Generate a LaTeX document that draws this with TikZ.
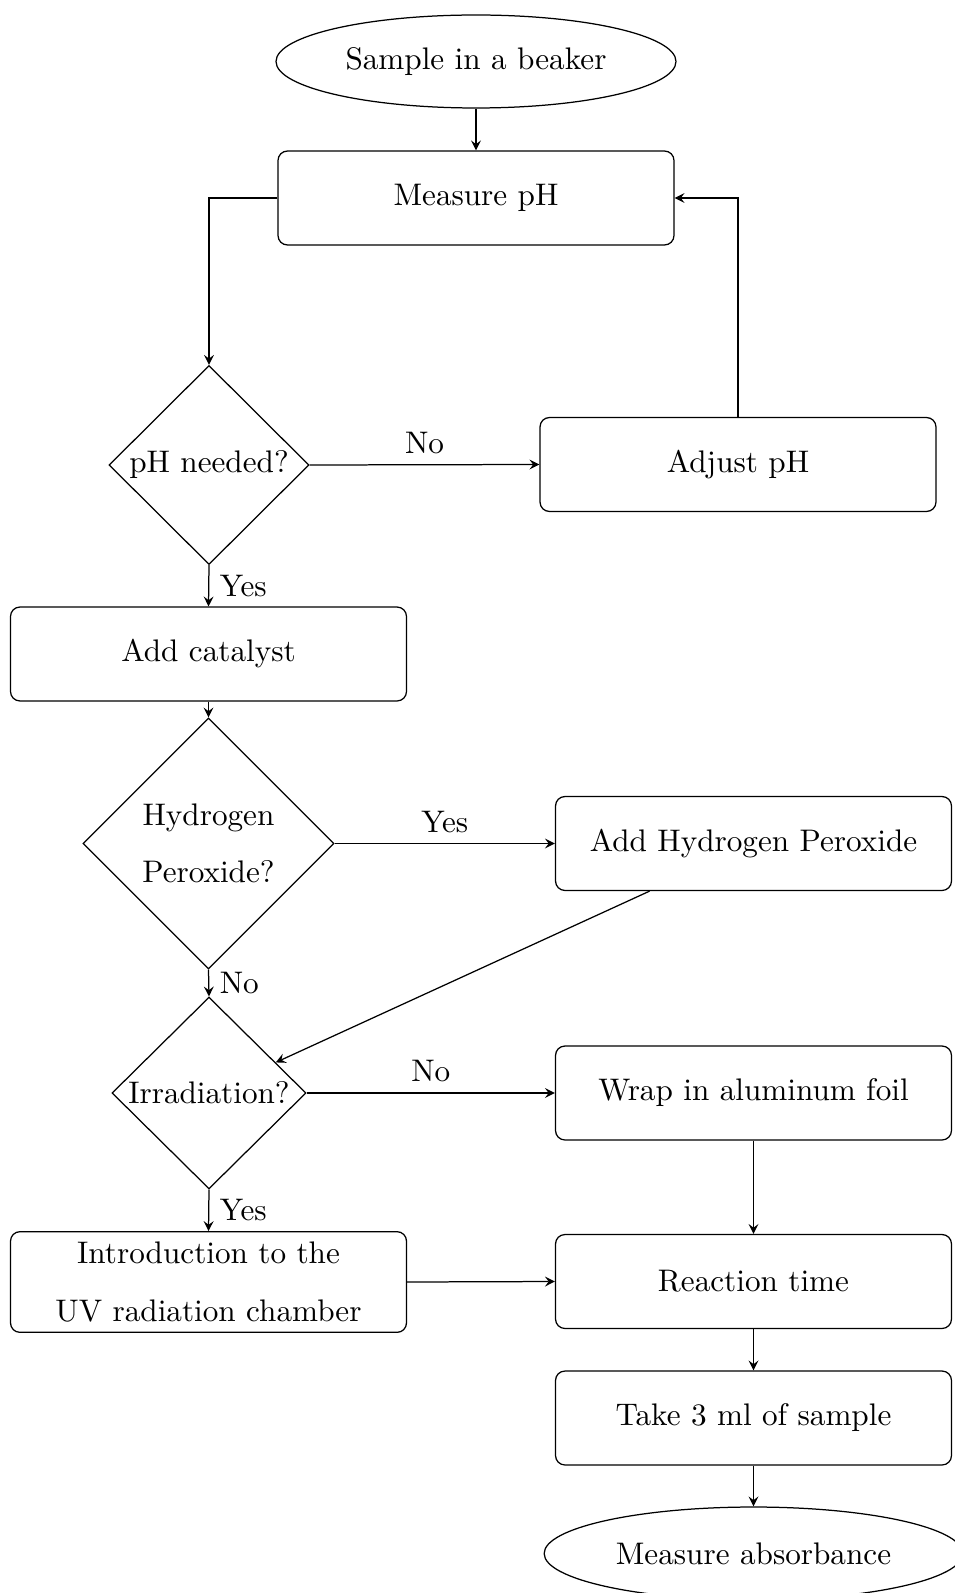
\documentclass[tikz,border=0pt]{standalone}
\usetikzlibrary{shapes.geometric,arrows}
\begin{document}
\begin{tikzpicture}[x=0.3205pt,y=-0.3205pt,
  every node/.style={font=\normalsize},
  procbox/.style={draw, rectangle, rounded corners=3pt, minimum width=126.9pt, minimum height=30.1pt, align=center},
  termnode/.style={draw, ellipse, minimum width=128.2pt, minimum height=29.8pt},
  decide/.style={draw, diamond, inner sep=0pt, align=center},
  conn/.style={-stealth, line width=0.4pt},
  lab/.style={inner sep=0.333em}]
\useasboundingbox (0,0) rectangle (954,1593);
\node[termnode] (start) at (476,61.5) {Sample in a beaker};
\node[procbox] (measure) at (476,198) {Measure pH};
\node[decide, minimum width=64.1pt, minimum height=63.8pt] (ph) at (209,465) {pH needed?};
\node[procbox] (adjust) at (738,464.5) {Adjust pH};
\node[procbox] (cat) at (208.5,654) {Add catalyst};
\node[decide, minimum width=80.4pt, minimum height=80.4pt] (hp) at (208.5,843.5) {Hydrogen\\[6.3pt]Peroxide?};
\node[procbox] (addhp) at (753.5,843.5) {Add Hydrogen Peroxide};
\node[decide, minimum width=62.2pt, minimum height=61.5pt] (irr) at (209,1093) {Irradiation?};
\node[procbox] (wrap) at (753.5,1093) {Wrap in aluminum foil};
\node[procbox, inner ysep=3.4pt] (intro) at (208.5,1282) {Introduction to the\\[6.3pt]UV radiation chamber};
\node[procbox] (react) at (753.5,1281.5) {Reaction time};
\node[procbox] (take) at (753.5,1418) {Take 3 ml of sample};
\node[termnode] (absorb) at (753.5,1553.5) {Measure absorbance};

\draw[conn] (start) -- (measure);
\draw[conn] (measure.west) -| (ph.north);
\draw[conn] (ph.east) -- node[midway, above, lab] {No} (adjust.west);
\draw[conn] (adjust.north) |- (measure.east);
\draw[conn] (ph.south) -- node[midway, right, lab] {Yes} (cat.north);
\draw[conn] (cat.south) -- (hp.north);
\draw[conn] (hp.east) -- node[midway, above, lab] {Yes} (addhp.west);
\draw[conn] (hp.south) -- node[midway, right, lab] {No} (irr.north);
\draw[conn] (addhp) -- (irr);
\draw[conn] (irr.east) -- node[midway, above, lab] {No} (wrap.west);
\draw[conn] (irr.south) -- node[midway, right, lab] {Yes} (intro.north);
\draw[conn] (wrap.south) -- (react.north);
\draw[conn] (intro.east) -- (react.west);
\draw[conn] (react.south) -- (take.north);
\draw[conn] (take.south) -- (absorb.north);
\end{tikzpicture}
\end{document}
